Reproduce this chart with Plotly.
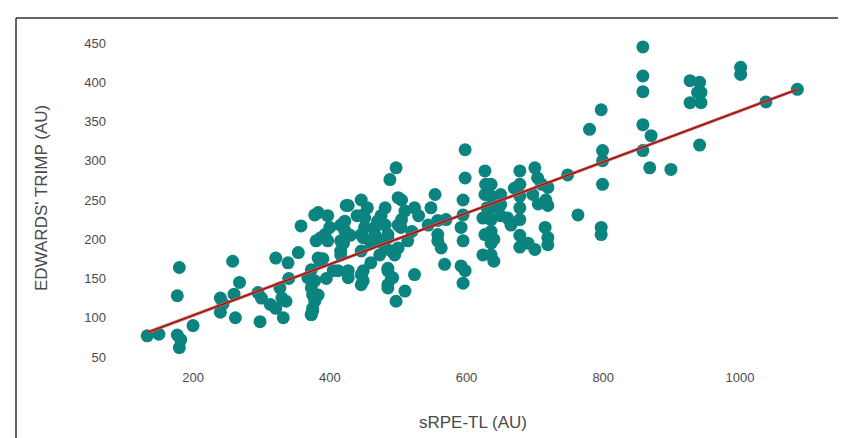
import numpy as np
import plotly.graph_objects as go

# sRPE-TL (AU) values
srpe_tl = [
    133, 150, 180, 177, 177, 180, 182, 200,
    240, 240, 244, 258, 262, 260, 268,
    298, 295, 313, 300,
    321, 339, 354, 358, 327, 321, 332, 336, 330, 340,
    368, 375, 375, 373, 380, 383, 386,
    378, 397, 387, 397, 378, 383, 375, 373, 383, 393, 373, 378, 373,
    400, 405, 395, 390,
    416, 427, 422, 416, 412, 427, 416, 416, 427, 424, 422, 430, 440, 420,
    446, 449, 449, 449, 449, 446, 446, 446, 446, 451, 451,
    460, 470, 475, 455, 460,
    466, 470, 466, 473,
    481, 481, 485, 490, 485, 485, 488, 481, 490, 485, 485, 485,
    497, 500, 500, 497, 500, 495, 492, 505, 505,
    510, 504, 514, 510, 520,
    524, 524, 530,
    554, 548, 558, 558, 563, 568, 544, 558, 570,
    598, 598, 595, 595, 592, 595, 592, 595, 598,
    627, 627, 624, 627, 624, 628, 630,
    636, 636, 636, 636, 636, 636, 636, 650, 650, 640, 640, 650,
    660, 665, 678, 678, 678, 678, 678, 678, 678, 670,
    700, 704, 719, 719, 719, 719, 700, 697, 716, 690, 705, 710, 715,
    748, 763, 780,
    797, 799, 799, 799, 797, 797,
    858, 858, 858, 858, 870, 858, 868, 899,
    927, 941, 943, 927, 943, 938, 941,
    1001, 1001, 1038, 1084,
]

# Edwards' TRIMP (AU) values
edwards_trimp = [
    77, 79, 164, 128, 78, 62, 72, 90,
    125, 107, 118, 172, 100, 130, 145,
    95, 132, 117, 125,
    176, 170, 183, 217, 138, 112, 100, 121, 125, 150,
    151, 129, 112, 104, 198, 234, 172,
    231, 230, 202, 198, 147, 129, 109, 161, 176, 206, 138, 121, 104,
    215, 160, 150, 175,
    218, 243, 211, 185, 160, 151, 198, 180, 160, 243, 223, 205, 230, 195,
    250, 231, 202, 160, 147, 185, 155, 142, 206, 215, 227,
    195, 200, 230, 240, 170,
    215, 223, 206, 180,
    240, 218, 202, 185, 160, 142, 276, 189, 151, 138, 206, 163,
    291, 253, 189, 121, 218, 180, 151, 225, 250,
    236, 215, 198, 134, 210,
    240, 155, 230,
    257, 240, 224, 206, 189, 168, 218, 198, 225,
    314, 278, 250, 231, 215, 198, 166, 144, 160,
    287, 257, 227, 206, 180, 270, 240,
    270, 255, 240, 225, 210, 195, 180, 257, 244, 172, 200, 230,
    227, 218, 287, 270, 255, 240, 225, 205, 190, 265,
    291, 278, 266, 243, 202, 193, 187, 257, 250, 195, 245, 270, 215,
    282, 231, 340,
    365, 313, 300, 270, 215, 206,
    445, 408, 388, 346, 332, 313, 291, 289,
    402, 400, 387, 374, 374, 387, 320,
    419, 410, 375, 391,
]

x_ticks = [200, 400, 600, 800, 1000]
y_ticks = [50, 100, 150, 200, 250, 300, 350, 400, 450]

x = np.array(srpe_tl, dtype=float)
y = np.array(edwards_trimp, dtype=float)
slope, intercept = np.polyfit(x, y, 1)
fit_x = np.array([x.min(), x.max()])
fit_y = slope * fit_x + intercept

fig = go.Figure()
fig.add_trace(go.Scatter(
    x=x, y=y, mode="markers",
    marker=dict(size=13, color="#0b8480", line=dict(width=0)),
    showlegend=False, hoverinfo="x+y",
))
fig.add_trace(go.Scatter(
    x=fit_x, y=fit_y, mode="lines",
    line=dict(color="#d9534f", width=3),
    showlegend=False, hoverinfo="skip",
))
fig.add_trace(go.Scatter(
    x=fit_x, y=fit_y, mode="lines",
    line=dict(color="#7a1414", width=1.2),
    showlegend=False, hoverinfo="skip",
))

tick_font = dict(family="Liberation Sans, Arial, sans-serif", size=13, color="#4a4a4a")
title_font = dict(family="Liberation Sans, Arial, sans-serif", size=17, color="#4a4a4a")

fig.update_layout(
    width=846, height=438,
    margin=dict(l=117, r=32, t=19, b=73),
    paper_bgcolor="white", plot_bgcolor="white",
    xaxis=dict(
        range=[100.5, 1120], tickvals=x_ticks, showgrid=False, zeroline=False,
        showline=False, ticks="", tickfont=tick_font, ticklabelstandoff=-5,
    ),
    yaxis=dict(
        range=[29.6, 470.4], tickvals=y_ticks, showgrid=False, zeroline=False,
        showline=False, ticks="", tickfont=tick_font, ticklabelstandoff=18,
    ),
    annotations=[
        dict(text="sRPE-TL (AU)", xref="paper", yref="paper",
             x=(465 - 117) / 697, y=(365 - 414) / 346, showarrow=False,
             xanchor="center", yanchor="middle", font=title_font),
        dict(text="EDWARDS' TRIMP (AU)", xref="paper", yref="paper",
             x=(34 - 117) / 697, y=(365 - 190) / 346, showarrow=False, textangle=-90,
             xanchor="center", yanchor="middle", font=title_font),
    ],
    shapes=[
        dict(type="line", xref="paper", yref="paper",
             x0=(8 - 117) / 697, x1=(846 - 117) / 697,
             y0=(365 - 10) / 346, y1=(365 - 10) / 346,
             line=dict(color="#333333", width=1.5)),
        dict(type="line", xref="paper", yref="paper",
             x0=(8 - 117) / 697, x1=(8 - 117) / 697,
             y0=(365 - 10) / 346, y1=(365 - 438) / 346,
             line=dict(color="#333333", width=1.5)),
    ],
)

fig.write_html("out.html")
